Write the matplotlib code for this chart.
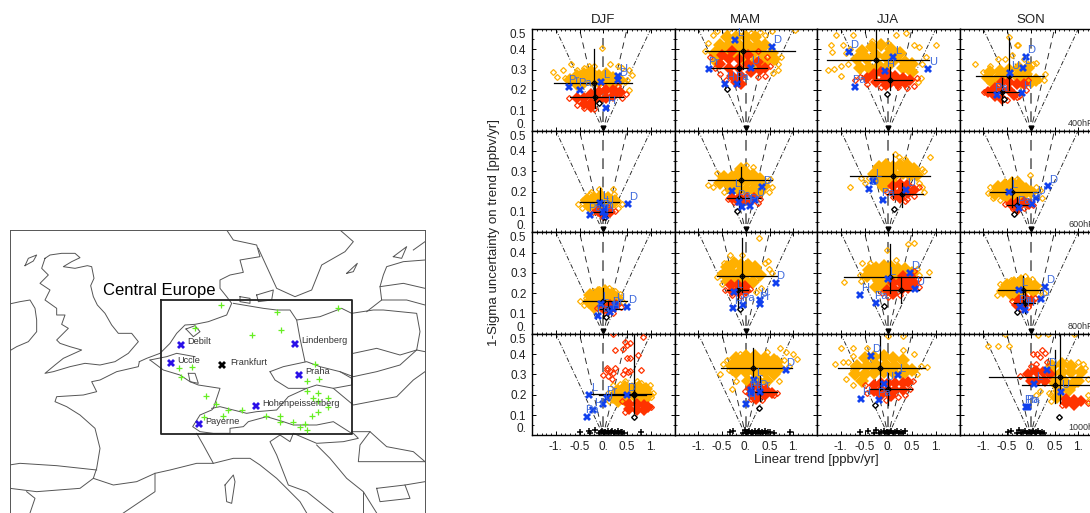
"""
Central Europe map and ozone trend vs. trend uncertainty panels
"""
from matplotlib import pyplot as plt

plt.rcParams['font.family'] = ['Liberation Sans', 'DejaVu Sans']

W, H = 1090, 513

# ---- map data (picture coordinates of the map frame) ----
coast_lines = [
    [(75, 122), (85, 100), (110, 90), (100, 108), (75, 122)],
    [(135, 100), (150, 90), (185, 85), (225, 85), (240, 98), (215, 110), (190, 125), (225, 130), (262, 122), (275, 125), (282, 160),
     (272, 182), (280, 215), (292, 240), (315, 265), (335, 300), (355, 325), (395, 325), (415, 350), (385, 385), (345, 410), (300, 420),
     (255, 415), (210, 425), (160, 440), (135, 445), (165, 420), (190, 400), (245, 375), (210, 365), (180, 355), (170, 345), (205, 310), (185, 298),
     (195, 270), (170, 270), (170, 250), (135, 225), (150, 195), (120, 175), (145, 150), (125, 130), (135, 100)],
    [(28, 237), (60, 230), (90, 225), (105, 250), (110, 285), (110, 320), (85, 350), (50, 365), (28, 378)],
    [(418, 410), (440, 400), (480, 385), (510, 355), (530, 325), (555, 300), (585, 298), (625, 290), (680, 270),
     (695, 235), (680, 215), (660, 190), (660, 165), (690, 150), (730, 142), (720, 105), (780, 95), (770, 60),
     (700, 45), (680, 15)],
    [(558, 312), (585, 302), (600, 320), (580, 335), (558, 312)],
    [(418, 410), (415, 425), (350, 440), (300, 465), (275, 470), (290, 500), (250, 510), (170, 515), (165, 530),
     (200, 545), (240, 570), (285, 610), (300, 670), (290, 730), (280, 760), (340, 780), (410, 770), (465, 745),
     (510, 735), (590, 715), (640, 715), (610, 660), (590, 625)],
    [(28, 720), (60, 715), (170, 722), (290, 735)],
    [(280, 760), (240, 790), (110, 800), (30, 790)],
    [(465, 745), (465, 800), (370, 864)],
    [(90, 864), (105, 820), (80, 800)],
    [(450, 405), (490, 435), (540, 450), (570, 470), (595, 480), (660, 490), (640, 550), (635, 555), (600, 570),
     (578, 605), (600, 620), (640, 625), (690, 625), (690, 610), (730, 605), (745, 590), (800, 575), (850, 590),
     (880, 600), (950, 600), (1000, 590), (1055, 625)],
    [(635, 550), (660, 545), (740, 565), (770, 560), (830, 555), (865, 515), (920, 490), (950, 480), (1000, 490),
     (1060, 540), (1190, 515), (1240, 465), (1275, 440)],
    [(810, 440), (850, 425), (920, 410), (960, 425), (1020, 440), (1055, 460), (1055, 480), (1000, 490)],
    [(810, 440), (825, 465), (865, 490), (920, 490)],
    [(565, 445), (585, 445), (595, 475), (570, 470), (565, 445)],
    [(450, 405), (500, 395), (530, 385), (585, 395)],
    [(890, 285), (900, 340), (915, 410)],
    [(700, 235), (790, 250), (830, 255), (870, 255), (890, 285), (960, 275), (1025, 250), (1055, 265), (1120, 255),
     (1150, 255), (1250, 265), (1260, 320), (1250, 375), (1275, 380)],
    [(1020, 440), (1060, 455), (1130, 440), (1200, 420), (1250, 375)],
    [(1060, 385), (1130, 370), (1200, 390), (1250, 375)],
    [(775, 70), (830, 190), (885, 215), (935, 195), (965, 120), (1035, 80), (1060, 50), (1020, 15)],
    [(1040, 145), (1072, 115), (1060, 140), (1040, 145)],
    [(1100, 260), (1145, 225), (1140, 185), (1150, 150), (1160, 125), (1210, 110), (1275, 105)],
    [(1140, 185), (1210, 175), (1275, 190)],
    [(1145, 225), (1220, 225), (1275, 240)],
    [(1180, 95), (1220, 65), (1205, 100), (1180, 95)],
    [(1240, 75), (1275, 50)],
    [(720, 215), (750, 220), (750, 235), (720, 230), (720, 215)],
    [(770, 210), (820, 195), (815, 225), (775, 230), (770, 210)],
    [(1055, 620), (1110, 620), (1160, 665), (1240, 680), (1275, 710)],
    [(840, 630), (810, 650), (830, 690), (865, 780), (920, 800), (1000, 864)],
    [(840, 630), (870, 650), (880, 625), (950, 655), (1030, 650), (1075, 640), (1060, 625)],
    [(950, 660), (990, 700), (1040, 760), (1090, 800), (1130, 864)],
    [(640, 715), (700, 700), (750, 700), (780, 720), (830, 760), (900, 830), (920, 864)],
    [(675, 780), (700, 750), (705, 770), (695, 835), (680, 830), (675, 780)],
    [(1090, 800), (1090, 864)],
    [(1130, 790), (1215, 780), (1230, 820), (1140, 830), (1130, 790)],
    [(1215, 780), (1275, 770)],
    [(1110, 620), (1080, 660), (1075, 710), (1200, 710), (1275, 710)],
]
region_box = [(484, 224), (1055, 224), (1055, 627), (484, 627), (484, 224)]
green_sites = [(662, 240), (586, 308), (832, 262), (1015, 248), (757, 331), (843, 316), (536, 428), (577, 425),
               (544, 455), (946, 418), (922, 467), (957, 461), (618, 513), (648, 538), (920, 497), (955, 505),
               (940, 518), (983, 520), (953, 527), (985, 545), (685, 556), (725, 555), (668, 574), (612, 577),
               (797, 572), (840, 572), (840, 590), (878, 590), (935, 572), (953, 562), (900, 606), (915, 598),
               (920, 615)]
station_names = ['Debilt', 'Uccle', 'Lindenberg', 'Praha', 'Hohenpeissenberg', 'Payerne']
station_xy = [(544, 360), (512, 415), (884, 356), (897, 449), (767, 543), (596, 598)]
frankfurt_xy = (667, 420)

# ---- panel data: (trend, 1-sigma) ----
seasons = ['DJF', 'MAM', 'JJA', 'SON']
levels = ['400hPa', '600hPa', '800hPa', '1000hPa']
y_tick_values = [0, 0.1, 0.2, 0.3, 0.4, 0.5]
y_tick_labels = ['0.', '0.1', '0.2', '0.3', '0.4', '0.5']
x_tick_values = [-1, -0.5, 0, 0.5, 1]
x_tick_labels = ['-1.', '-0.5', '0.', '0.5', '1.']
fan_top_x = [-1, -0.5, 0, 0.5, 1]

# orange dense part, orange loose points, red dense part, red loose points
oc_400_djf = [(-0.7, 0.25), (-0.55, 0.27), (-0.55, 0.23), (-0.4, 0.28), (-0.4, 0.24), (-0.25, 0.29), (-0.25, 0.25),
              (-0.1, 0.27), (-0.1, 0.24), (0.05, 0.28), (0.05, 0.24), (0.2, 0.26), (0.2, 0.23), (0.35, 0.25)]
ol_400_djf = [(-1.05, 0.29), (-0.97, 0.265), (-0.85, 0.3), (-0.8, 0.26), (-0.68, 0.33), (-0.55, 0.3), (-0.4, 0.31),
              (-0.3, 0.32), (-0.2, 0.32), (-0.02, 0.405), (0.05, 0.29), (0.15, 0.33), (0.3, 0.32), (0.4, 0.31),
              (0.55, 0.3), (0.6, 0.275), (0.5, 0.25), (0.55, 0.2), (0.45, 0.24)]
rc_400_djf = [(-0.55, 0.16), (-0.4, 0.16), (-0.4, 0.13), (-0.25, 0.18), (-0.25, 0.135), (-0.1, 0.19), (-0.1, 0.15),
              (0.05, 0.2), (0.05, 0.16), (0.2, 0.2), (0.2, 0.17), (0.35, 0.19), (-0.25, 0.115)]
rl_400_djf = [(-0.72, 0.16), (-0.55, 0.125), (-0.4, 0.11), (-0.2, 0.105), (0.48, 0.18), (0.4, 0.16), (0.3, 0.22),
              (-0.05, 0.22)]

oc_400_mam = [(-0.4, 0.46), (-0.2, 0.46), (0.0, 0.46), (0.2, 0.46), (-0.55, 0.42), (-0.35, 0.42), (-0.15, 0.42),
              (0.05, 0.42), (0.25, 0.42), (0.4, 0.42), (-0.65, 0.38), (-0.45, 0.38), (-0.25, 0.38), (-0.05, 0.38),
              (0.15, 0.38), (0.35, 0.38), (0.55, 0.38), (-0.6, 0.34), (0.0, 0.34), (0.2, 0.34), (0.4, 0.34),
              (0.6, 0.35)]
ol_400_mam = [(-0.85, 0.39), (-0.8, 0.43), (-0.7, 0.47), (-0.6, 0.49), (-0.35, 0.5), (-0.1, 0.49), (0.1, 0.48),
              (0.3, 0.485), (0.55, 0.49), (1.04, 0.495), (0.75, 0.36), (0.68, 0.33), (0.58, 0.285), (0.68, 0.3),
              (0.4, 0.47)]
rc_400_mam = [(-0.5, 0.37), (-0.3, 0.39), (-0.55, 0.33), (-0.35, 0.35), (-0.15, 0.35), (0.05, 0.37), (-0.35, 0.31),
              (-0.15, 0.31), (0.05, 0.33), (0.25, 0.34), (-0.3, 0.27), (-0.1, 0.27), (0.1, 0.29), (0.3, 0.3),
              (-0.2, 0.24), (-0.1, 0.23), (0.4, 0.31)]
rl_400_mam = [(-0.75, 0.36), (-0.65, 0.31), (-0.55, 0.28), (-0.42, 0.25), (0.45, 0.36), (0.5, 0.32), (0.4, 0.27),
              (0.25, 0.265), (0.25, 0.39)]

oc_400_jja = [(-0.55, 0.39), (-0.35, 0.41), (-0.15, 0.42), (0.05, 0.4), (0.25, 0.38), (-0.65, 0.35), (-0.45, 0.35),
              (-0.25, 0.37), (-0.05, 0.36), (0.15, 0.35), (0.35, 0.34), (0.5, 0.33), (-0.6, 0.31), (-0.4, 0.31),
              (-0.2, 0.32), (0.0, 0.32), (0.3, 0.31), (0.5, 0.29), (-0.3, 0.28)]
ol_400_jja = [(-1.1, 0.47), (-0.75, 0.47), (-1.2, 0.42), (-1.18, 0.385), (-0.95, 0.42), (-0.9, 0.38), (-0.8, 0.4),
              (-1.27, 0.3), (-1.15, 0.305), (-1.0, 0.32), (-1.0, 0.27), (-0.85, 0.33), (0.17, 0.47), (0.37, 0.48),
              (0.55, 0.42), (0.65, 0.41), (0.8, 0.36), (1.0, 0.42), (0.7, 0.33), (0.68, 0.26), (0.62, 0.24),
              (-0.35, 0.44), (0.0, 0.43)]
rc_400_jja = [(-0.45, 0.26), (-0.3, 0.28), (-0.15, 0.29), (0.0, 0.28), (0.15, 0.27), (0.3, 0.26), (0.45, 0.25),
              (-0.25, 0.24), (-0.1, 0.25), (0.05, 0.24), (0.2, 0.23), (-0.05, 0.225), (0.35, 0.235)]
rl_400_jja = [(-0.7, 0.25), (-0.6, 0.265), (-0.45, 0.23), (0.55, 0.22), (0.6, 0.26), (-0.15, 0.215), (0.2, 0.215),
              (0.4, 0.21)]

oc_400_son = [(-0.85, 0.29), (-0.65, 0.295), (-0.45, 0.3), (-0.25, 0.31), (-0.05, 0.31), (-0.9, 0.26), (-0.7, 0.26),
              (-0.5, 0.27), (-0.3, 0.27), (-0.1, 0.28), (0.1, 0.25), (-0.8, 0.235), (-0.2, 0.24), (0.0, 0.24)]
ol_400_son = [(-1.17, 0.33), (-0.85, 0.32), (-0.7, 0.35), (-0.55, 0.35), (-0.45, 0.46), (-0.3, 0.42), (-0.27, 0.42),
              (-0.4, 0.37), (-0.05, 0.33), (0.05, 0.33), (0.12, 0.335), (0.3, 0.28), (0.27, 0.25), (0.18, 0.25),
              (-1.0, 0.29), (-0.15, 0.35)]
rc_400_son = [(-0.9, 0.19), (-0.75, 0.21), (-0.75, 0.17), (-0.6, 0.24), (-0.6, 0.2), (-0.6, 0.155), (-0.45, 0.24),
              (-0.45, 0.2), (-0.35, 0.175), (-0.3, 0.23), (-0.15, 0.23)]
rl_400_son = [(-0.98, 0.19), (-0.5, 0.15), (-0.25, 0.17), (-0.1, 0.2), (-0.05, 0.25), (-0.3, 0.165)]

oc_600_djf = [(-0.35, 0.16), (-0.2, 0.17), (-0.05, 0.18), (0.1, 0.17), (0.25, 0.155), (-0.3, 0.13), (-0.15, 0.135),
              (0.0, 0.145), (0.15, 0.135)]
ol_600_djf = [(-0.53, 0.14), (-0.45, 0.12), (-0.42, 0.16), (-0.27, 0.19), (-0.1, 0.215), (0.2, 0.215), (0.22, 0.19),
              (0.39, 0.14), (0.3, 0.12), (-0.25, 0.2)]
rc_600_djf = [(-0.12, 0.105), (0.05, 0.105), (0.15, 0.1), (-0.03, 0.09)]
rl_600_djf = [(-0.22, 0.1), (0.25, 0.105), (0.1, 0.125), (0.0, 0.075)]

oc_600_mam = [(-0.45, 0.27), (-0.3, 0.27), (-0.15, 0.29), (0.0, 0.29), (0.15, 0.28), (0.3, 0.26), (-0.55, 0.24),
              (-0.4, 0.24), (-0.25, 0.25), (-0.1, 0.25), (0.05, 0.25), (0.2, 0.24), (0.38, 0.225), (-0.3, 0.21),
              (-0.15, 0.21), (0.0, 0.21), (0.15, 0.21), (0.3, 0.2), (-0.1, 0.31)]
ol_600_mam = [(-0.79, 0.23), (-0.68, 0.22), (-0.6, 0.29), (0.0, 0.33), (0.15, 0.32), (0.5, 0.26), (0.55, 0.22),
              (0.48, 0.2), (-0.45, 0.2)]
rc_600_mam = [(-0.28, 0.17), (-0.13, 0.17), (0.02, 0.17), (0.17, 0.17), (-0.08, 0.155), (0.07, 0.155), (-0.18, 0.16)]
rl_600_mam = [(-0.38, 0.165), (0.3, 0.165), (0.25, 0.145), (-0.25, 0.15)]

oc_600_jja = [(-0.2, 0.32), (-0.05, 0.33), (0.1, 0.32), (0.25, 0.33), (0.4, 0.33), (0.55, 0.31), (-0.3, 0.285),
              (-0.15, 0.29), (0.0, 0.29), (0.15, 0.28), (0.3, 0.29), (0.45, 0.28), (-0.2, 0.25), (-0.05, 0.25),
              (0.1, 0.24), (-0.1, 0.22), (0.6, 0.28)]
ol_600_jja = [(-0.81, 0.22), (-0.58, 0.265), (-0.5, 0.24), (-0.4, 0.265), (0.15, 0.385), (0.22, 0.37), (0.88, 0.37),
              (0.7, 0.31), (0.75, 0.3), (0.7, 0.22), (0.65, 0.24), (0.75, 0.2), (0.35, 0.36)]
rc_600_jja = [(0.1, 0.225), (0.25, 0.235), (0.4, 0.23), (0.55, 0.21), (0.12, 0.195), (0.27, 0.2), (0.42, 0.195),
              (0.25, 0.17)]
rl_600_jja = [(-0.03, 0.2), (0.1, 0.175), (0.4, 0.165), (0.55, 0.18), (0.35, 0.155), (0.64, 0.22)]

oc_600_son = [(-0.7, 0.22), (-0.55, 0.23), (-0.4, 0.24), (-0.25, 0.235), (-0.1, 0.215), (0.0, 0.2), (-0.75, 0.19),
              (-0.6, 0.195), (-0.45, 0.205), (-0.3, 0.2), (-0.15, 0.19), (-0.5, 0.175), (-0.35, 0.175), (-0.2, 0.17)]
ol_600_son = [(-0.89, 0.195), (-0.85, 0.22), (-0.8, 0.17), (-0.65, 0.16), (-0.3, 0.26), (-0.02, 0.28), (0.1, 0.22),
              (0.2, 0.21), (0.1, 0.185), (0.23, 0.17)]
rc_600_son = [(-0.42, 0.14), (-0.28, 0.145), (-0.14, 0.15), (-0.04, 0.14), (-0.28, 0.115)]
rl_600_son = [(-0.54, 0.14), (-0.38, 0.115), (-0.15, 0.12), (0.05, 0.135), (-0.3, 0.102)]

oc_800_djf = [(-0.28, 0.19), (-0.12, 0.2), (0.03, 0.21), (0.18, 0.195), (0.28, 0.175), (-0.3, 0.155), (-0.15, 0.165),
              (0.0, 0.17), (0.15, 0.165), (-0.2, 0.13), (-0.05, 0.135)]
ol_800_djf = [(-0.49, 0.16), (-0.4, 0.14), (-0.37, 0.175), (-0.22, 0.21), (-0.08, 0.22), (0.13, 0.225), (0.25, 0.21),
              (0.36, 0.195), (0.42, 0.155), (-0.32, 0.195)]
rc_800_djf = [(0.0, 0.125), (0.14, 0.14), (0.27, 0.14), (0.1, 0.115)]
rl_800_djf = [(-0.14, 0.125), (0.38, 0.13), (0.2, 0.1), (0.05, 0.095)]

oc_800_mam = [(-0.4, 0.33), (-0.25, 0.35), (-0.1, 0.34), (0.05, 0.34), (0.2, 0.33), (-0.45, 0.295), (-0.3, 0.3),
              (-0.15, 0.3), (0.0, 0.3), (0.15, 0.3), (0.3, 0.29), (-0.38, 0.26), (-0.2, 0.26), (0.0, 0.26),
              (0.15, 0.255), (-0.1, 0.24)]
ol_800_mam = [(-0.6, 0.28), (-0.55, 0.3), (-0.45, 0.35), (-0.33, 0.39), (-0.22, 0.36), (-0.07, 0.39), (0.27, 0.47),
              (0.4, 0.35), (0.46, 0.36), (0.48, 0.32), (0.55, 0.3), (-0.5, 0.245), (0.22, 0.205), (0.32, 0.225)]
rc_800_mam = [(-0.32, 0.24), (-0.17, 0.24), (-0.02, 0.235), (-0.3, 0.21), (-0.15, 0.205), (0.0, 0.21)]
rl_800_mam = [(-0.43, 0.215), (0.09, 0.22), (-0.3, 0.19), (-0.1, 0.185)]

oc_800_jja = [(-0.4, 0.315), (-0.25, 0.325), (-0.1, 0.335), (0.05, 0.33), (0.2, 0.32), (0.35, 0.32), (-0.45, 0.285),
              (-0.3, 0.29), (-0.15, 0.295), (0.0, 0.295), (0.15, 0.29), (-0.2, 0.26), (-0.05, 0.25), (-0.25, 0.23),
              (-0.1, 0.225), (0.5, 0.3)]
ol_800_jja = [(-0.94, 0.255), (-0.6, 0.29), (-0.55, 0.35), (-0.38, 0.35), (-0.02, 0.41), (0.17, 0.365), (0.42, 0.44),
              (0.55, 0.445), (0.6, 0.32), (0.85, 0.305), (0.65, 0.29), (-0.58, 0.26)]
rc_800_jja = [(0.32, 0.285), (0.47, 0.28), (0.1, 0.25), (0.25, 0.255), (0.4, 0.25), (0.55, 0.25), (-0.02, 0.215),
              (0.13, 0.22), (0.28, 0.22), (0.42, 0.225), (0.1, 0.195)]
rl_800_jja = [(-0.13, 0.2), (0.62, 0.27), (0.64, 0.23), (0.25, 0.19), (0.0, 0.18), (0.55, 0.31)]

oc_800_son = [(-0.5, 0.24), (-0.35, 0.25), (-0.2, 0.26), (-0.05, 0.25), (0.08, 0.235), (-0.58, 0.21), (-0.42, 0.215),
              (-0.27, 0.22), (-0.12, 0.22), (0.05, 0.21), (-0.4, 0.19), (-0.25, 0.19)]
ol_800_son = [(-0.72, 0.19), (-0.65, 0.21), (-0.5, 0.25), (-0.42, 0.265), (-0.12, 0.285), (0.02, 0.27), (0.2, 0.23),
              (0.27, 0.2), (0.15, 0.19), (-0.65, 0.245)]
rc_800_son = [(-0.25, 0.165), (-0.1, 0.17), (0.0, 0.16), (-0.28, 0.14), (-0.14, 0.14)]
rl_800_son = [(-0.4, 0.16), (0.09, 0.175), (-0.05, 0.13), (-0.2, 0.12)]

oc_1000_djf = [(0.3, 0.22), (0.45, 0.24), (0.6, 0.23), (0.75, 0.24), (0.9, 0.23), (0.2, 0.19), (0.35, 0.2),
               (0.5, 0.2), (0.65, 0.2), (0.8, 0.2), (0.95, 0.2), (0.3, 0.17), (0.45, 0.175), (0.85, 0.175)]
ol_1000_djf = [(0.1, 0.21), (0.13, 0.17), (0.45, 0.27), (0.7, 0.27), (0.8, 0.26), (0.98, 0.25), (1.05, 0.21),
               (1.0, 0.19), (0.2, 0.25), (0.35, 0.255)]
rc_1000_djf = [(0.55, 0.155), (0.7, 0.155), (0.85, 0.15), (0.95, 0.14), (0.55, 0.13), (0.7, 0.125), (0.85, 0.125)]
rl_1000_djf = [(0.2, 0.5), (0.25, 0.418), (0.41, 0.425), (0.49, 0.446), (0.56, 0.454), (0.46, 0.46), (0.84, 0.485),
               (0.74, 0.398), (0.49, 0.38), (0.56, 0.38), (0.0, 0.295), (0.14, 0.315), (0.07, 0.33), (0.25, 0.33),
               (0.07, 0.32), (0.1, 0.29), (0.46, 0.32), (0.56, 0.315), (0.79, 0.32), (0.42, 0.3), (0.53, 0.31),
               (0.18, 0.28), (0.39, 0.167), (0.21, 0.305), (1.0, 0.14), (0.45, 0.115)]

oc_1000_mam = [(-0.2, 0.38), (0.0, 0.39), (0.2, 0.39), (0.4, 0.38), (0.6, 0.37), (-0.3, 0.34), (-0.1, 0.35),
               (0.1, 0.35), (0.3, 0.35), (0.5, 0.34), (0.7, 0.33), (-0.2, 0.31), (0.0, 0.31), (0.2, 0.31), (0.4, 0.31),
               (0.6, 0.3), (0.05, 0.27), (0.25, 0.27), (0.45, 0.27), (0.15, 0.25), (0.65, 0.36)]
ol_1000_mam = [(-0.54, 0.3), (-0.48, 0.35), (-0.4, 0.37), (-0.3, 0.31), (-0.2, 0.27), (-0.28, 0.23), (-0.12, 0.4),
               (0.45, 0.41), (0.72, 0.43), (0.85, 0.41), (1.0, 0.4), (1.07, 0.375), (0.8, 0.37), (0.7, 0.27),
               (0.9, 0.34), (-0.35, 0.32)]
rc_1000_mam = [(0.12, 0.235), (0.27, 0.24), (0.42, 0.225), (0.55, 0.21), (0.1, 0.205), (0.25, 0.205), (0.4, 0.2),
               (0.22, 0.18)]
rl_1000_mam = [(-0.01, 0.22), (0.65, 0.21), (0.6, 0.2), (0.1, 0.18), (0.35, 0.175)]

oc_1000_jja = [(-0.5, 0.38), (-0.3, 0.385), (-0.1, 0.39), (0.1, 0.38), (0.3, 0.37), (-0.65, 0.34), (-0.45, 0.34),
               (-0.25, 0.345), (-0.05, 0.345), (0.15, 0.34), (0.35, 0.33), (0.5, 0.32), (-0.7, 0.3), (-0.5, 0.3),
               (-0.3, 0.305), (-0.1, 0.31), (0.1, 0.31), (0.3, 0.3), (-0.55, 0.27)]
ol_1000_jja = [(-1.0, 0.43), (-0.75, 0.43), (-0.75, 0.39), (-1.12, 0.35), (-0.95, 0.36), (-0.85, 0.36), (-0.75, 0.32),
               (-0.9, 0.28), (-0.75, 0.25), (-0.75, 0.34), (0.0, 0.49), (0.3, 0.49), (0.3, 0.42), (0.55, 0.4),
               (0.68, 0.34), (0.81, 0.335), (0.6, 0.3), (-0.45, 0.43)]
rc_1000_jja = [(-0.3, 0.25), (-0.15, 0.26), (0.0, 0.26), (0.15, 0.26), (0.3, 0.26), (0.42, 0.265), (-0.3, 0.22),
               (-0.15, 0.225), (0.0, 0.225), (0.15, 0.225), (0.3, 0.225), (0.05, 0.195), (-0.15, 0.2)]
rl_1000_jja = [(-0.48, 0.25), (-0.45, 0.21), (0.53, 0.27), (0.45, 0.23), (0.35, 0.2), (0.2, 0.19), (-0.05, 0.175)]

oc_1000_son = [(0.45, 0.34), (0.65, 0.35), (0.85, 0.34), (0.45, 0.3), (0.65, 0.31), (0.85, 0.31), (1.05, 0.31),
               (0.5, 0.26), (0.7, 0.27), (0.9, 0.26), (0.6, 0.22), (0.8, 0.225), (1.0, 0.27), (0.55, 0.19)]
ol_1000_son = [(-0.89, 0.44), (-0.69, 0.44), (-0.46, 0.44), (-0.54, 0.5), (0.16, 0.495), (0.37, 0.5), (0.9, 0.5),
               (0.38, 0.21), (0.42, 0.17), (0.42, 0.2), (0.2, 0.22), (0.1, 0.2), (1.15, 0.33), (1.1, 0.35), (1.0, 0.36),
               (0.75, 0.36), (1.2, 0.28), (1.2, 0.17), (1.2, 0.2)]
rc_1000_son = [(-0.05, 0.3), (0.1, 0.315), (0.25, 0.31), (0.4, 0.3), (0.0, 0.27), (0.15, 0.275), (0.3, 0.27),
               (0.75, 0.18), (0.9, 0.175), (1.05, 0.17), (0.75, 0.16), (0.9, 0.15)]
rl_1000_son = [(0.24, 0.42), (0.13, 0.4), (0.2, 0.385), (0.1, 0.35), (0.05, 0.4), (0.3, 0.405), (-0.22, 0.29),
               (0.35, 0.36), (0.0, 0.34), (1.2, 0.16), (0.65, 0.15)]

# means and spreads: x, sigma, x low, x high, sigma low, sigma high
oc_cross = [[(-0.2, 0.236, -1.04, 0.6, 0.15, 0.4), (-0.05, 0.39, -0.86, 1.04, 0.305, 0.5),
             (-0.26, 0.348, -1.28, 0.85, 0.257, 0.5), (-0.45, 0.27, -1.15, 0.27, 0.2, 0.454)],
            [(-0.07, 0.15, -0.48, 0.34, 0.085, 0.216), (-0.105, 0.259, -0.79, 0.55, 0.2, 0.32),
             (0.11, 0.279, -0.8, 0.88, 0.167, 0.385), (-0.386, 0.2, -0.86, 0.16, 0.126, 0.274)],
            [(0.0, 0.162, -0.43, 0.5, 0.077, 0.225), (-0.085, 0.285, -0.6, 0.65, 0.208, 0.47),
             (0.04, 0.279, -0.93, 0.87, 0.2, 0.44), (-0.155, 0.216, -0.68, 0.23, 0.15, 0.282)],
            [(0.64, 0.202, -0.28, 1.0, 0.16, 0.26), (0.147, 0.331, -0.53, 0.97, 0.225, 0.43),
             (-0.18, 0.334, -1.05, 0.78, 0.225, 0.49), (0.62, 0.289, -0.87, 1.5, 0.16, 0.5)]]
rc_cross = [[(-0.17, 0.164, -0.7, 0.42, 0.11, 0.225), (-0.14, 0.307, -0.75, 0.44, 0.23, 0.39),
             (0.03, 0.25, -0.31, 0.5, 0.2, 0.315), (-0.6, 0.19, -0.93, -0.19, 0.126, 0.257)],
            [(-0.015, 0.098, -0.21, 0.175, 0.06, 0.126), (-0.15, 0.166, -0.4, 0.3, 0.118, 0.2),
             (0.295, 0.187, -0.03, 0.74, 0.126, 0.24), (-0.295, 0.134, -0.5, 0.02, 0.1, 0.175)],
            [(0.105, 0.123, -0.07, 0.39, 0.085, 0.16), (-0.155, 0.216, -0.4, 0.055, 0.126, 0.266),
             (0.26, 0.218, -0.11, 0.64, 0.15, 0.28), (-0.12, 0.154, -0.35, 0.09, 0.1, 0.216)],
            [(0.64, 0.2, -0.1, 0.9, 0.11, 0.5), (0.3, 0.213, 0.06, 0.65, 0.17, 0.29),
             (-0.015, 0.228, -0.41, 0.5, 0.15, 0.306), (0.52, 0.248, -0.19, 1.5, 0.16, 0.42)]]
open_diamond = [[(-0.1, 0.134), (-0.39, 0.203), (-0.035, 0.18), (-0.56, 0.154)],
                [(0.035, 0.077), (-0.19, 0.102), (0.13, 0.116), (-0.35, 0.089)],
                [(0.05, 0.085), (-0.12, 0.123), (-0.08, 0.138), (-0.29, 0.105)],
                [(0.64, 0.092), (0.28, 0.134), (-0.27, 0.15), (0.59, 0.09)]]

# sonde stations in each panel: name, trend, sigma
st_400 = [[('Pr', -0.72, 0.216), ('Pa', -0.48, 0.2), ('L', -0.05, 0.24), ('D', 0.32, 0.25), ('U', 0.32, 0.27), ('H', 0.06, 0.113)],
          [('Pr', -0.77, 0.302), ('D', 0.55, 0.41), ('L', -0.22, 0.446), ('U', 0.1, 0.307), ('H', -0.44, 0.23), ('Pa', -0.19, 0.23)],
          [('D', -0.83, 0.385), ('L', 0.105, 0.36), ('H', -0.06, 0.295), ('U', 0.835, 0.303), ('Pa', -0.71, 0.215)],
          [('D', -0.1, 0.364), ('L', -0.17, 0.306), ('U', -0.435, 0.282), ('Pa', -0.72, 0.175), ('H', -0.175, 0.187)]]
st_600 = [[('D', 0.53, 0.14), ('L', -0.07, 0.145), ('U', 0.03, 0.12), ('Pa', -0.27, 0.083), ('Pr', 0.0, 0.1), ('H', 0.03, 0.08)],
          [('D', 0.34, 0.22), ('L', -0.28, 0.205), ('H', -0.08, 0.126), ('U', 0.2, 0.16), ('Pa', -0.15, 0.15), ('Pr', 0.09, 0.13)],
          [('L', -0.32, 0.254), ('D', -0.41, 0.213), ('Pa', -0.11, 0.159), ('U', 0.38, 0.208)],
          [('D', 0.37, 0.225), ('L', -0.456, 0.2), ('U', 0.11, 0.167), ('Pr', 0.02, 0.138), ('Pa', -0.24, 0.118)]]
st_800 = [[('D', 0.5, 0.13), ('L', -0.055, 0.148), ('U', 0.25, 0.14), ('Pr', 0.2, 0.12), ('H', 0.14, 0.105), ('Pa', -0.105, 0.089)],
          [('D', 0.63, 0.252), ('L', -0.245, 0.208), ('H', -0.27, 0.126), ('Pa', -0.05, 0.143), ('U', 0.29, 0.167), ('Pr', 0.29, 0.148)],
          [('D', 0.46, 0.3), ('L', -0.01, 0.27), ('H', -0.59, 0.193), ('Pa', -0.26, 0.154), ('U', 0.56, 0.22)],
          [('D', 0.3, 0.23), ('L', -0.245, 0.215), ('U', 0.21, 0.169), ('Pa', -0.225, 0.134), ('H', -0.12, 0.118)]]
st_1000 = [[('L', -0.3, 0.198), ('D', 0.49, 0.2), ('Pr', 0.07, 0.184), ('U', 0.0, 0.156), ('H', -0.21, 0.126), ('Pa', -0.34, 0.093)],
           [('D', 0.84, 0.32), ('L', 0.18, 0.274), ('U', 0.1, 0.225), ('Pr', 0.3, 0.216), ('Pa', 0.11, 0.208), ('H', 0.007, 0.154)],
           [('D', -0.36, 0.39), ('L', 0.2, 0.295), ('U', -0.085, 0.252), ('H', -0.57, 0.18), ('Pa', -0.2, 0.174)],
           [('D', 0.34, 0.32), ('L', 0.07, 0.254), ('U', 0.63, 0.216), ('Pb', -0.105, 0.138), ('Pa', -0.05, 0.138)]]
stations = [st_400, st_600, st_800, st_1000]

# surface sites along the bottom of the 1000hPa row
plus_djf = [-0.49, -0.31, -0.28, -0.17, -0.08, -0.05, -0.02, 0.01, 0.04, 0.07, 0.1, 0.13, 0.16, 0.19, 0.22, 0.25, 0.28, 0.31, 0.34, 0.37, 0.4, 0.43, 0.79]
plus_mam = [-0.34, -0.27, -0.05, -0.02, 0.01, 0.04, 0.07, 0.1, 0.13, 0.16, 0.19, 0.22, 0.25, 0.28, 0.31, 0.34, 0.37, 0.4, 0.43, 0.46, 0.5, 0.6, 0.93]
plus_jja = [-0.59, -0.42, -0.3, -0.25, -0.2, -0.15, -0.1, -0.06, -0.02, 0.02, 0.06, 0.1, 0.14, 0.18, 0.22, 0.26, 0.3, 0.36]
plus_son = [-0.47, -0.42, -0.28, -0.24, -0.2, -0.16, -0.12, -0.08, -0.04, 0.0, 0.04, 0.08, 0.12, 0.16, 0.2, 0.24, 0.28]
plus_sigma = [0.018, 0.02, 0.014, 0.025, 0.012, 0.016, 0.02, 0.012, 0.018, 0.014, 0.022, 0.012, 0.016, 0.02, 0.012, 0.018, 0.014, 0.022, 0.012, 0.016, 0.018, 0.014, 0.016]
plus_trends = [plus_djf, plus_mam, plus_jja, plus_son]

orange_dense = [[oc_400_djf, oc_400_mam, oc_400_jja, oc_400_son], [oc_600_djf, oc_600_mam, oc_600_jja, oc_600_son],
                [oc_800_djf, oc_800_mam, oc_800_jja, oc_800_son], [oc_1000_djf, oc_1000_mam, oc_1000_jja, oc_1000_son]]
orange_loose = [[ol_400_djf, ol_400_mam, ol_400_jja, ol_400_son], [ol_600_djf, ol_600_mam, ol_600_jja, ol_600_son],
                [ol_800_djf, ol_800_mam, ol_800_jja, ol_800_son], [ol_1000_djf, ol_1000_mam, ol_1000_jja, ol_1000_son]]
red_dense = [[rc_400_djf, rc_400_mam, rc_400_jja, rc_400_son], [rc_600_djf, rc_600_mam, rc_600_jja, rc_600_son],
             [rc_800_djf, rc_800_mam, rc_800_jja, rc_800_son], [rc_1000_djf, rc_1000_mam, rc_1000_jja, rc_1000_son]]
red_loose = [[rl_400_djf, rl_400_mam, rl_400_jja, rl_400_son], [rl_600_djf, rl_600_mam, rl_600_jja, rl_600_son],
             [rl_800_djf, rl_800_mam, rl_800_jja, rl_800_son], [rl_1000_djf, rl_1000_mam, rl_1000_jja, rl_1000_son]]

ORANGE = '#ffb000'
RED = '#ff3300'
BLUE = '#1040ee'
LABEL_BLUE = '#3c68dc'


def px_axes(fig, left, top, width, height):
    return fig.add_axes([left / W, 1 - (top + height) / H, width / W, height / H])


def xy(points):
    return [p[0] for p in points], [p[1] for p in points]


fig = plt.figure(figsize=(W / 100, H / 100), dpi=100)

# ---- map ----
ax = px_axes(fig, 9.5, 230, 415.5, 283)
ax.set_xlim(28.5, 1275)
ax.set_ylim(864, 15)
ax.set_xticks([])
ax.set_yticks([])
ax.spines['bottom'].set_visible(False)
for side in ['left', 'top', 'right']:
    ax.spines[side].set_linewidth(0.7)
    ax.spines[side].set_color('#555555')
for line in coast_lines:
    ax.plot(*xy(line), color='#555555', lw=0.7)
ax.plot(*xy(region_box), color='#222222', lw=1.3, zorder=3)
ax.plot(*xy(green_sites), ls='none', marker='+', ms=5, mew=0.9, color='#66ee22', zorder=4)
ax.plot(*xy(station_xy), ls='none', marker='X', ms=6, mew=0, color='#2a10e8', zorder=5)
ax.plot(frankfurt_xy[0], frankfurt_xy[1], marker='X', ms=5.5, mew=0, color='black', zorder=5)
for name, (sx, sy) in zip(station_names, station_xy):
    ax.text(sx + 19, sy - 9, name, fontsize=6.6, color='#333333', va='center', zorder=6)
ax.text(frankfurt_xy[0] + 25, frankfurt_xy[1] - 8, 'Frankfurt', fontsize=6.6, color='#333333', va='center', zorder=6)
ax.text(308, 197, 'Central Europe', fontsize=12, color='black', va='center')

# ---- trend panels ----
panel_left = 532.0
panel_top = 29.0
panel_w = 142.5
panel_h = 101.6

for row in range(4):
    for col in range(4):
        ax = px_axes(fig, panel_left + col * panel_w, panel_top + row * panel_h, panel_w, panel_h)
        ax.set_xlim(-1.5, 1.5)
        ax.set_ylim(0, 0.5)

        for top_x in fan_top_x:
            style = (0, (5, 2, 1, 2)) if abs(top_x) == 1 else (0, (7, 5))
            color = '#555555' if top_x == 0 else '#222222'
            width = 1.1 if top_x == 0 else 0.65
            ax.plot([top_x * 0.08, top_x], [0.04, 0.5], ls=style, lw=width, color=color, zorder=1)
        ax.plot(0, 0.015, marker='v', ms=3.5, color='black', ls='none', zorder=1)

        ax.plot(*xy(orange_loose[row][col]), ls='none', marker='D', ms=3, mfc='none', mec=ORANGE, mew=0.9, zorder=2)
        ax.plot(*xy(orange_dense[row][col]), ls='none', marker='D', ms=7, color=ORANGE, mew=0, zorder=2)
        ax.plot(*xy(red_loose[row][col]), ls='none', marker='D', ms=3, mfc='none', mec=RED, mew=0.9, zorder=3)
        ax.plot(*xy(red_dense[row][col]), ls='none', marker='D', ms=6.2, color=RED, mew=0, zorder=3)

        for cross in [oc_cross[row][col], rc_cross[row][col]]:
            cx, cy, xlo, xhi, ylo, yhi = cross
            ax.plot([xlo, xhi], [cy, cy], color='black', lw=0.9, zorder=4)
            ax.plot([cx, cx], [ylo, yhi], color='black', lw=0.9, zorder=4)
            ax.plot(cx, cy, marker='D', ms=2.7, mfc='none', mec='black', mew=1.0, zorder=5)
        dx, dy = open_diamond[row][col]
        ax.plot(dx, dy, marker='D', ms=2.9, mfc='white', mec='black', mew=1.0, zorder=5)

        for name, sx, sy in stations[row][col]:
            ax.plot(sx, sy, marker='X', ms=5.2, mew=0, color=BLUE, zorder=6)
            ax.annotate(name, (sx, sy), xytext=(3.5, 5), textcoords='offset points', ha='center', va='center',
                        fontsize=8, color=LABEL_BLUE, zorder=7)

        if row == 3:
            xs = plus_trends[col]
            ax.plot(xs, plus_sigma[:len(xs)], ls='none', marker='+', ms=5, mew=1.1, color='black', zorder=4)

        ax.set_xticks(x_tick_values)
        ax.set_xticks([i * 0.1 - 1.5 for i in range(31)], minor=True)
        ax.set_yticks(y_tick_values)
        ax.set_yticks([i * 0.05 for i in range(11)], minor=True)
        ax.tick_params(which='major', direction='in', length=3, width=0.7, top=True, right=True, pad=4,
                       labelsize=8.5, labelcolor='#222222')
        ax.tick_params(which='minor', direction='in', length=1.5, width=0.6, top=True, right=True)
        if row == 3:
            ax.set_xticklabels(x_tick_labels)
        else:
            ax.set_xticklabels([])
        if col == 0:
            ax.set_yticklabels(y_tick_labels)
            labels = ax.get_yticklabels()
            labels[0].set_va('bottom')
            labels[-1].set_va('top')
        else:
            ax.set_yticklabels([])
        for spine in ax.spines.values():
            spine.set_linewidth(1.0)
        if row == 0:
            ax.set_title(seasons[col], fontsize=9.5, pad=4, color='#222222')
        if col == 3:
            ax.text(0.785, 0.037, levels[row], fontsize=6.5, color='#333333', va='center', clip_on=False, zorder=8)

fig.text(816 / W, 1 - 460 / H, 'Linear trend [ppbv/yr]', fontsize=9.5, ha='center', va='center', color='#222222')
fig.text(494 / W, 1 - 232 / H, '1-Sigma uncertainty on trend [ppbv/yr]', fontsize=9.6, rotation=90, ha='center',
         va='center', color='#222222')

fig.savefig('out.png', dpi=100)
